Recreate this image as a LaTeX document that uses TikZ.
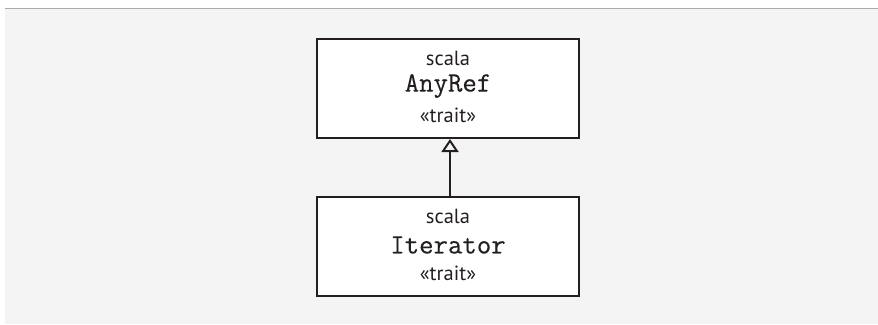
\documentclass[tikz,border=0pt]{standalone}
\usepackage{fontspec}
\setmainfont{PT Sans}
\newfontfamily\codefont[BoldFont={Latin Modern Mono}, BoldFeatures={FakeBold=0.3}]{Latin Modern Mono}
\usetikzlibrary{arrows.meta}
\definecolor{bgcol}{HTML}{F4F4F4}
\definecolor{rulecol}{HTML}{AAAAAA}
\definecolor{inkcol}{HTML}{231F20}
\begin{document}
\begin{tikzpicture}[x=1pt,y=-1pt,
  classbox/.style={draw=inkcol, line width=2pt, fill=white, minimum width=262pt, minimum height=99pt, inner sep=0pt, anchor=north},
  pkgtext/.style={font=\fontsize{20.5}{20}\selectfont, text=inkcol, inner sep=0pt},
  nametext/.style={font=\codefont\bfseries\fontsize{28}{28}\selectfont, text=inkcol, inner sep=0pt},
  stereo/.style={font=\fontsize{20.5}{20}\selectfont, text=inkcol, inner sep=0pt},
  inherit/.style={draw=inkcol, line width=2pt, -{Triangle[open, length=13pt, width=17pt, line width=2pt]}}
]
\useasboundingbox (0,0) rectangle (878,324);
\fill[bgcol] (5,8) rectangle (878,324);
\draw[rulecol, line width=1.2pt] (5,8.5) -- (878,8.5);

\node[classbox] (anyref) at (448,38) {};
\node[pkgtext] (anyref-pkg) at ([yshift=-20pt]anyref.north) {scala};
\node[nametext] (anyref-name) at ([yshift=-48pt]anyref.north) {AnyRef};
\node[stereo] (anyref-st) at ([yshift=-77pt]anyref.north) {«trait»};

\node[classbox] (iter) at (448,196) {};
\node[pkgtext] (iter-pkg) at ([yshift=-20pt]iter.north) {scala};
\node[nametext] (iter-name) at ([yshift=-49pt]iter.north) {Iterator};
\node[stereo] (iter-st) at ([yshift=-77pt]iter.north) {«trait»};

\draw[inherit] ([xshift=2pt]iter.north) -- ([xshift=2pt]anyref.south);
\end{tikzpicture}
\end{document}
